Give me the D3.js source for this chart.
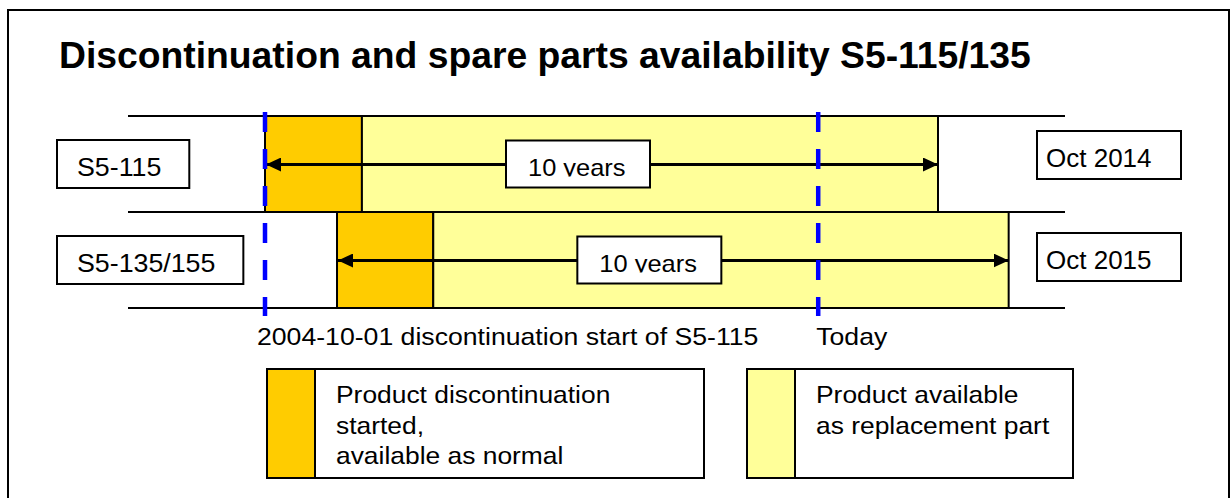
<!DOCTYPE html>
<html lang="en">
<head>
<meta charset="utf-8">
<title>Discontinuation and spare parts availability</title>
<script src="https://d3js.org/d3.v7.min.js"></script>
<style>
	body { margin: 0; background: #fff; }
	svg text { font-family: "Liberation Sans", Arial, Helvetica, sans-serif; fill: #000; }
</style>
</head>
<body>
<script>
	// values (years as decimals)
	var products = ["S5-115", "S5-135/155"];
	var startYear = [2004.75, 2005.82];
	var discEndYear = [2006.19, 2007.25];
	var endYear = [2014.75, 2015.8];
	var endLabels = ["Oct 2014", "Oct 2015"];
	var spanLabels = ["10 years", "10 years"];
	var todayYear = 2012.97;
	var markerYears = [2004.75, todayYear];
	var markerLabels = ["2004-10-01 discontinuation start of S5-115", "Today"];
	var legendLabels = [
		["Product discontinuation", "started,", "available as normal"],
		["Product available", "as replacement part"]
	];
	var phaseColors = ["#ffcc00", "#ffff99"];
	var title = "Discontinuation and spare parts availability S5-115/135";

	var w = 1232, h = 498;

	var svg = d3.select("body").append("svg")
		.attr("width", w)
		.attr("height", h);
	var defs = svg.append("defs");

	var xScale = d3.scaleLinear().domain([2004.75, 2014.75]).range([265, 938]);
	var yScale = d3.scaleBand().domain(products).range([116, 308]);
	var rowH = yScale.bandwidth();

	// helper: put text at x,y with a small horizontal stretch like the original
	function place(sel, x, y, sx) {
		return sel.attr("transform", "translate(" + x + "," + y + ") scale(" + sx + ",1)");
	}

	// outer frame
	svg.append("rect")
		.attr("x", 8).attr("y", 10)
		.attr("width", 1221).attr("height", 520)
		.attr("fill", "none")
		.attr("stroke", "#000")
		.attr("stroke-width", 2);

	place(svg.append("text"), 59, 68, 1.036)
		.style("font-size", "36px")
		.style("font-weight", "bold")
		.text(title);

	// discontinuation phase and spare part phase
	svg.selectAll("rect.disc")
		.data(products)
		.enter().append("rect")
		.attr("class", "disc")
		.attr("x", function (d, i) { return xScale(startYear[i]); })
		.attr("y", function (d) { return yScale(d); })
		.attr("width", function (d, i) { return xScale(discEndYear[i]) - xScale(startYear[i]); })
		.attr("height", rowH)
		.attr("fill", phaseColors[0])
		.attr("stroke", "#000")
		.attr("stroke-width", 2);

	svg.selectAll("rect.spare")
		.data(products)
		.enter().append("rect")
		.attr("class", "spare")
		.attr("x", function (d, i) { return xScale(discEndYear[i]); })
		.attr("y", function (d) { return yScale(d); })
		.attr("width", function (d, i) { return xScale(endYear[i]) - xScale(discEndYear[i]); })
		.attr("height", rowH)
		.attr("fill", phaseColors[1])
		.attr("stroke", "#000")
		.attr("stroke-width", 2);

	// row separators
	var sepY = products.map(function (d) { return yScale(d); }).concat([yScale.range()[1]]);
	svg.selectAll("line.sep")
		.data(sepY)
		.enter().append("line")
		.attr("class", "sep")
		.attr("x1", 128).attr("x2", 1065)
		.attr("y1", function (d) { return d; })
		.attr("y2", function (d) { return d; })
		.attr("stroke", "#000")
		.attr("stroke-width", 2);

	// arrows
	defs.append("marker")
		.attr("id", "head")
		.attr("viewBox", "0 0 15 14")
		.attr("refX", 15).attr("refY", 7)
		.attr("markerWidth", 15).attr("markerHeight", 14)
		.attr("markerUnits", "userSpaceOnUse")
		.attr("orient", "auto-start-reverse")
		.append("path")
		.attr("d", "M0,0 L15,7 L0,14 Z")
		.attr("fill", "#000");

	svg.selectAll("line.span")
		.data(products)
		.enter().append("line")
		.attr("class", "span")
		.attr("x1", function (d, i) { return xScale(startYear[i]) + 1; })
		.attr("x2", function (d, i) { return xScale(endYear[i]); })
		.attr("y1", function (d) { return yScale(d) + rowH / 2 + 0.5; })
		.attr("y2", function (d) { return yScale(d) + rowH / 2 + 0.5; })
		.attr("stroke", "#000")
		.attr("stroke-width", 3)
		.attr("marker-start", "url(#head)")
		.attr("marker-end", "url(#head)");

	// "10 years" boxes, text cut at the baseline as in the original
	var boxW = 144, boxH = 47;
	products.forEach(function (d, i) {
		var cx = (xScale(startYear[i]) + xScale(endYear[i])) / 2 - 23.5;
		var top = yScale(d) + 24.5;
		svg.append("rect")
			.attr("x", cx - boxW / 2).attr("y", top)
			.attr("width", boxW).attr("height", boxH)
			.attr("fill", "#fff")
			.attr("stroke", "#000")
			.attr("stroke-width", 2);
		defs.append("clipPath").attr("id", "clip" + i)
			.append("rect")
			.attr("x", cx - boxW / 2).attr("y", top)
			.attr("width", boxW).attr("height", 36);
		var g = svg.append("g").attr("clip-path", "url(#clip" + i + ")");
		place(g.append("text"), cx - boxW / 2 + 22, top + 35.5, 1.06)
			.style("font-size", "24px")
			.text(spanLabels[i]);
	});

	// product name boxes on the left
	products.forEach(function (d, i) {
		var top = yScale(d) + 24;
		var g = svg.append("g");
		var r = g.append("rect");
		var t = place(g.append("text"), 77, top + 36, 1.05)
			.style("font-size", "25.5px")
			.text(d);
		var tw = t.node().getComputedTextLength() * 1.05;
		r.attr("x", 57).attr("y", top)
			.attr("width", tw + 48).attr("height", 48)
			.attr("fill", "#fff")
			.attr("stroke", "#000")
			.attr("stroke-width", 2);
	});

	// end date boxes on the right
	var endDy = [15, 21];
	products.forEach(function (d, i) {
		var top = yScale(d) + endDy[i];
		var g = svg.append("g");
		g.append("rect")
			.attr("x", 1037).attr("y", top)
			.attr("width", 144).attr("height", 48)
			.attr("fill", "#fff")
			.attr("stroke", "#000")
			.attr("stroke-width", 2);
		place(g.append("text"), 1046, top + 35.5, 1.02)
			.style("font-size", "25.5px")
			.text(endLabels[i]);
	});

	// dashed marker lines
	svg.selectAll("line.marker")
		.data(markerYears)
		.enter().append("line")
		.attr("class", "marker")
		.attr("x1", function (d) { return xScale(d); })
		.attr("x2", function (d) { return xScale(d); })
		.attr("y1", 112).attr("y2", 316)
		.attr("stroke", "#0000ff")
		.attr("stroke-width", 4.5)
		.attr("stroke-dasharray", "20,17");

	var markerDx = [-8, -2];
	markerLabels.forEach(function (d, i) {
		place(svg.append("text"), xScale(markerYears[i]) + markerDx[i], 345, 1.11)
			.style("font-size", "24px")
			.text(d);
	});

	// legend
	var legendX = [267, 747], legendW = [437, 326];
	legendLabels.forEach(function (lines, i) {
		var g = svg.append("g");
		g.append("rect")
			.attr("x", legendX[i]).attr("y", 369)
			.attr("width", legendW[i]).attr("height", 109)
			.attr("fill", "#fff")
			.attr("stroke", "#000")
			.attr("stroke-width", 2);
		g.append("rect")
			.attr("x", legendX[i]).attr("y", 369)
			.attr("width", 48).attr("height", 109)
			.attr("fill", phaseColors[i])
			.attr("stroke", "#000")
			.attr("stroke-width", 2);
		lines.forEach(function (line, j) {
			place(g.append("text"), legendX[i] + 69, 403 + j * 30.5, 1.1)
				.style("font-size", "24px")
				.text(line);
		});
	});
</script>
</body>
</html>
